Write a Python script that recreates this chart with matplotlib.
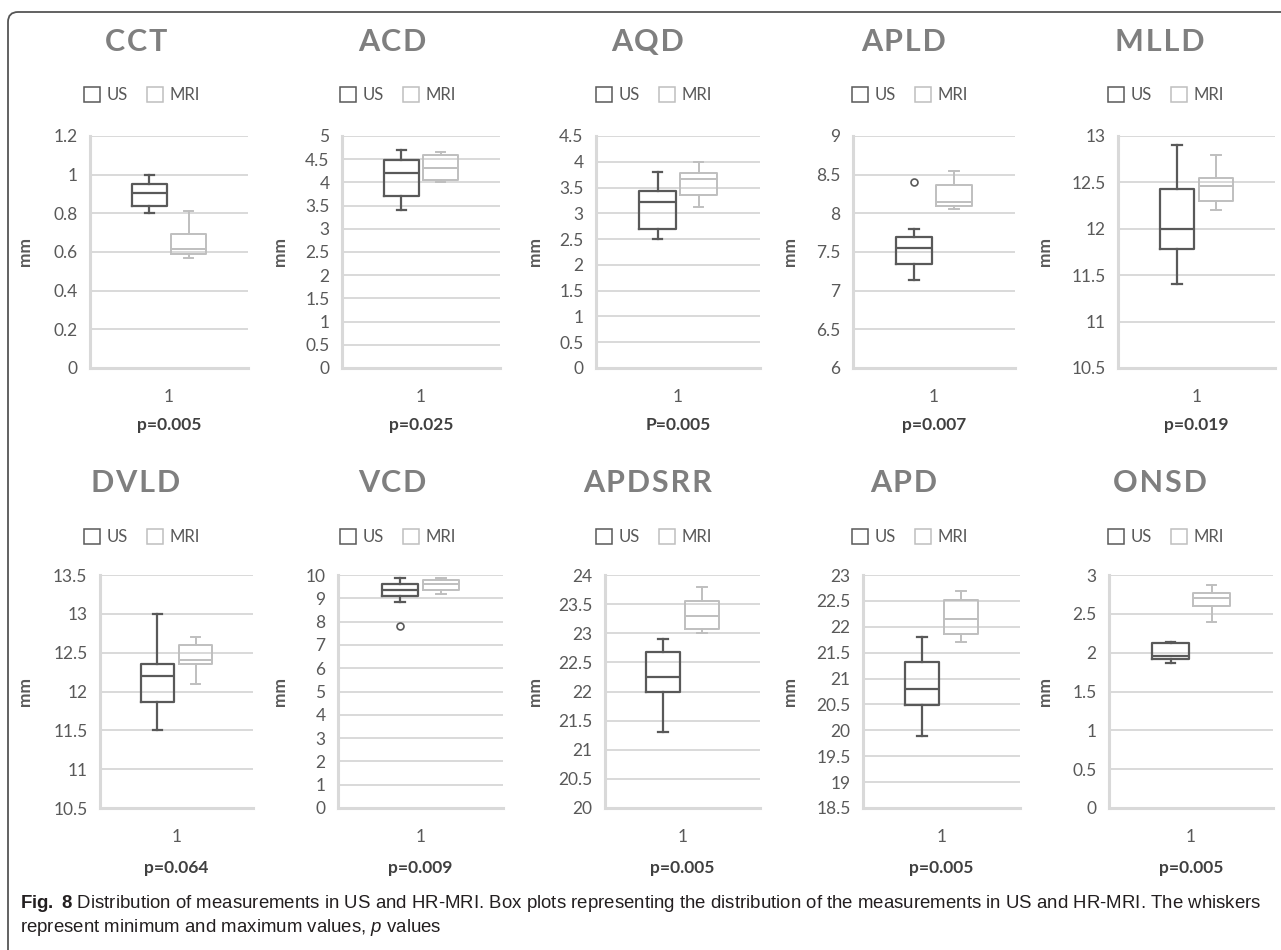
import matplotlib
matplotlib.use('Agg')
import matplotlib.pyplot as plt
from matplotlib import font_manager
from matplotlib.patches import Patch, FancyBboxPatch
from matplotlib.transforms import IdentityTransform

# ---- values ----
names = ['CCT', 'ACD', 'AQD', 'APLD', 'MLLD', 'DVLD', 'VCD', 'APDSRR', 'APD', 'ONSD']
p_labels = ['p=0.005', 'p=0.025', 'P=0.005', 'p=0.007', 'p=0.019',
            'p=0.064', 'p=0.009', 'p=0.005', 'p=0.005', 'p=0.005']

# whisker low, q1, median, q3, whisker high
us_stats = [
    [0.80, 0.84, 0.905, 0.95, 1.00],
    [3.40, 3.70, 4.20, 4.48, 4.70],
    [2.50, 2.70, 3.22, 3.43, 3.80],
    [7.14, 7.34, 7.55, 7.69, 7.80],
    [11.40, 11.78, 12.00, 12.43, 12.90],
    [11.50, 11.87, 12.20, 12.35, 13.00],
    [8.85, 9.10, 9.35, 9.60, 9.85],
    [21.30, 22.00, 22.25, 22.68, 22.90],
    [19.90, 20.48, 20.80, 21.32, 21.80],
    [1.87, 1.92, 1.96, 2.13, 2.14],
]
us_fliers = [[], [], [], [8.4], [], [], [7.8], [], [], []]

mri_stats = [
    [0.57, 0.59, 0.615, 0.695, 0.81],
    [4.00, 4.05, 4.30, 4.60, 4.65],
    [3.13, 3.35, 3.67, 3.78, 4.00],
    [8.05, 8.09, 8.15, 8.37, 8.55],
    [12.20, 12.30, 12.46, 12.55, 12.80],
    [12.10, 12.35, 12.40, 12.60, 12.70],
    [9.20, 9.35, 9.60, 9.80, 9.85],
    [23.00, 23.08, 23.30, 23.55, 23.80],
    [21.70, 21.87, 22.15, 22.52, 22.70],
    [2.40, 2.60, 2.70, 2.77, 2.87],
]
mri_fliers = [[] for _ in names]

# y axis: min, max, step
y_ranges = [(0, 1.2, 0.2), (0, 5, 0.5), (0, 4.5, 0.5), (6, 9, 0.5), (10.5, 13, 0.5),
            (10.5, 13.5, 0.5), (0, 10, 1), (20, 24, 0.5), (18.5, 23, 0.5), (0, 3, 0.5)]

# ---- layout (pixels of the 1281x950 picture) ----
W, H = 1281, 950
ax_lr = [(90, 248), (342, 500), (596, 760), (853, 1015), (1118, 1275),
         (100, 253), (338, 503), (605, 760), (863, 1020), (1109, 1273)]
row_tb = [(136, 368), (575, 808)]
title_y = [42, 483]
legend_y = [95, 537]
p_off = [-57, -60]

US_COLOR = '#595959'
MRI_COLOR = '#bfbfbf'
GRID = '#d9d9d9'
TXT = '#595959'
SANS = ['Lato', 'DejaVu Sans']

avail = {f.name for f in font_manager.fontManager.ttflist}
cap_font = 'Liberation Sans Narrow' if 'Liberation Sans Narrow' in avail else 'Liberation Sans'

plt.rcParams['font.family'] = SANS
plt.rcParams['mathtext.fontset'] = 'custom'
plt.rcParams['mathtext.rm'] = cap_font
plt.rcParams['mathtext.bf'] = cap_font + ':bold'
plt.rcParams['mathtext.it'] = cap_font + ':italic'

fig = plt.figure(figsize=(W / 100, H / 100), dpi=100)
fig.patch.set_facecolor('white')


def fx(x):
    return x / W


def fy(y):
    return 1 - y / H


# rounded frame, open at right/bottom like the page crop
frame = FancyBboxPatch((8, -60), 1400, H - 12 + 60, boxstyle='round,pad=0,rounding_size=10',
                       transform=IdentityTransform(), fill=False, ec='#555555', lw=1.3)
fig.add_artist(frame)

off, bw = 0.125, 0.22
for i, name in enumerate(names):
    row, col = divmod(i, 5)
    left, right = ax_lr[i]
    top, bottom = row_tb[row]
    ax = fig.add_axes([fx(left), fy(bottom), fx(right - left), (bottom - top) / H])

    for stats, fl, pos, color, lw in [(us_stats[i], us_fliers[i], 1 - off, US_COLOR, 1.6),
                                      (mri_stats[i], mri_fliers[i], 1 + off, MRI_COLOR, 1.4)]:
        lo, q1, med, q3, hi = stats
        st = dict(whislo=lo, q1=q1, med=med, q3=q3, whishi=hi, fliers=fl)
        lp = dict(color=color, lw=lw)
        ax.bxp([st], positions=[pos], widths=[bw], capwidths=[0.06], manage_ticks=False,
               boxprops=lp, whiskerprops=lp, capprops=lp, medianprops=lp,
               flierprops=dict(marker='o', mfc='none', mec=color, ms=5, mew=1.2))

    ymin, ymax, step = y_ranges[i]
    n = int(round((ymax - ymin) / step))
    ticks = [round(ymin + k * step, 3) for k in range(n + 1)]
    ax.set_ylim(ymin, ymax)
    ax.set_yticks(ticks)
    ax.set_yticklabels(['{:g}'.format(t) for t in ticks])
    ax.set_xlim(0.5, 1.5)
    ax.set_xticks([1])
    ax.set_xticklabels(['1'])
    ax.set_axisbelow(True)
    ax.yaxis.grid(True, color=GRID, lw=1.4)
    for s in ['top', 'right']:
        ax.spines[s].set_visible(False)
    for s in ['left', 'bottom']:
        ax.spines[s].set_color(GRID)
        ax.spines[s].set_linewidth(2.2)
    ax.tick_params(axis='y', length=0, pad=9, labelsize=12.5, labelcolor=TXT)
    ax.tick_params(axis='x', length=0, pad=15, labelsize=12.5, labelcolor=TXT)

    ax.set_ylabel('mm', fontsize=12.5, fontweight='bold', color=TXT)
    lab_x = 33 + 255 * col
    ax.yaxis.set_label_coords((lab_x - left) / (right - left), 0.5)

    ax.annotate(p_labels[i], xy=(0.5, 0), xycoords='axes fraction', xytext=(0, p_off[row]),
                textcoords='offset pixels', ha='center', va='center',
                fontsize=12.5, fontweight='bold', color='#404040')

    cx = 136 + 256 * col
    fig.text(fx(cx), fy(title_y[row]), '\u200a'.join(name), ha='center', va='center',
             fontsize=22, fontweight='bold', color='#7f7f7f', family=SANS)

    handles = [Patch(facecolor='white', edgecolor=US_COLOR, lw=1.1, label='US'),
               Patch(facecolor='white', edgecolor=MRI_COLOR, lw=1.1, label='MRI')]
    leg = fig.legend(handles=handles, loc='center', bbox_to_anchor=(fx(cx + 6), fy(legend_y[row])),
                     ncol=2, frameon=False, fontsize=12, handlelength=1.0, handleheight=1.0,
                     handletextpad=0.4, columnspacing=1.1, borderaxespad=0, borderpad=0)
    for t in leg.get_texts():
        t.set_color(TXT)

cap_size = 15 if cap_font == 'Liberation Sans Narrow' else 13.4
cap1 = (r'$\mathbf{Fig.}$ $\mathbf{8}$ Distribution of measurements in US and HR-MRI. Box plots representing '
        r'the distribution of the measurements in US and HR-MRI. The whiskers')
cap2 = r'represent minimum and maximum values, $\mathit{p}$ values'
fig.text(fx(20), fy(903), cap1, ha='left', va='center', fontsize=cap_size,
         family=cap_font, color='#231f20')
fig.text(fx(20), fy(928), cap2, ha='left', va='center', fontsize=cap_size,
         family=cap_font, color='#231f20')

fig.savefig('out.png', dpi=100, facecolor='white')
